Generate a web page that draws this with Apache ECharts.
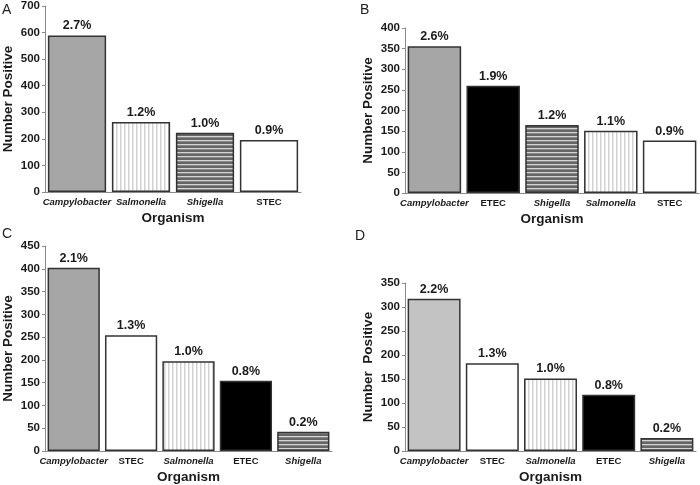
<!DOCTYPE html>
<html><head><meta charset="utf-8">
<script src="https://cdn.jsdelivr.net/npm/echarts@6/dist/echarts.min.js"></script>
<style>html,body{margin:0;padding:0;background:#fff}#c{width:700px;height:485px}</style>
</head><body><div id="c"></div>
<script>
// ---- data ----
const catsA = ['Campylobacter', 'Salmonella', 'Shigella', 'STEC'];
const valsA = [589, 263, 223, 196];
const pctA = ['2.7%', '1.2%', '1.0%', '0.9%'];

const catsB = ['Campylobacter', 'ETEC', 'Shigella', 'Salmonella', 'STEC'];
const valsB = [356, 260, 165, 151, 127];
const pctB = ['2.6%', '1.9%', '1.2%', '1.1%', '0.9%'];

const catsC = ['Campylobacter', 'STEC', 'Salmonella', 'ETEC', 'Shigella'];
const valsC = [402, 254, 197, 154, 42];
const pctC = ['2.1%', '1.3%', '1.0%', '0.8%', '0.2%'];

const catsD = ['Campylobacter', 'STEC', 'Salmonella', 'ETEC', 'Shigella'];
const valsD = [317, 183, 151, 117, 27];
const pctD = ['2.2%', '1.3%', '1.0%', '0.8%', '0.2%'];

const italicNames = ['Campylobacter', 'Salmonella', 'Shigella'];

// ---- patterns ----
function vPattern() {
  const c = document.createElement('canvas'); c.width = 4; c.height = 4;
  const g = c.getContext('2d');
  g.fillStyle = '#ffffff'; g.fillRect(0, 0, 4, 4);
  g.fillStyle = '#d2d2d2'; g.fillRect(0, 0, 1.5, 4);
  return c;
}
function hPattern() {
  const c = document.createElement('canvas'); c.width = 4; c.height = 4;
  const g = c.getContext('2d');
  g.fillStyle = '#666666'; g.fillRect(0, 0, 4, 4);
  g.fillStyle = '#d4d4d4'; g.fillRect(0, 0, 4, 1.3);
  return c;
}
const vp = vPattern(), hp = hPattern();
function fillFor(name, campyColor) {
  if (name === 'Campylobacter') return campyColor;
  if (name === 'Salmonella') return { image: vp, repeat: 'repeat' };
  if (name === 'Shigella') return { image: hp, repeat: 'repeat' };
  if (name === 'ETEC') return '#000000';
  return '#ffffff';
}

const FONT = '"Liberation Sans", Arial, sans-serif';
const panels = [
  { cats: catsA, vals: valsA, pct: pctA, max: 700, interval: 100, grid: { left: 44, top: 5, width: 257, height: 187 }, campy: '#a6a6a6', yname: 'Number Positive' },
  { cats: catsB, vals: valsB, pct: pctB, max: 400, interval: 50, grid: { left: 405, top: 28, width: 294, height: 165 }, campy: '#a6a6a6', yname: 'Number Positive' },
  { cats: catsC, vals: valsC, pct: pctC, max: 450, interval: 50, grid: { left: 44, top: 246, width: 288, height: 205 }, campy: '#a6a6a6', yname: 'Number Positive' },
  { cats: catsD, vals: valsD, pct: pctD, max: 350, interval: 50, grid: { left: 405, top: 283, width: 291, height: 168 }, campy: '#c3c3c3', yname: 'Number  Positive' }
];

const grid = [], xAxis = [], yAxis = [], series = [];
panels.forEach((p, i) => {
  grid.push(Object.assign({ containLabel: false }, p.grid));
  xAxis.push({
    type: 'category', gridIndex: i, data: p.cats,
    name: 'Organism', nameLocation: 'middle', nameGap: 19,
    nameTextStyle: { fontFamily: FONT, fontWeight: 'bold', fontSize: 13.5, color: '#1a1a1a' },
    axisLine: { lineStyle: { color: '#8a8a8a', width: 1 } },
    axisTick: { show: false },
    axisLabel: {
      interval: 0, margin: 5,
      formatter: v => (italicNames.includes(v) ? '{i|' + v + '}' : '{n|' + v + '}'),
      rich: {
        i: { fontFamily: FONT, fontWeight: 'bold', fontStyle: 'italic', fontSize: 9.5, color: '#1a1a1a' },
        n: { fontFamily: FONT, fontWeight: 'bold', fontSize: 9.5, color: '#1a1a1a' }
      }
    }
  });
  yAxis.push({
    type: 'value', gridIndex: i, min: 0, max: p.max, interval: p.interval,
    name: p.yname, nameLocation: 'middle', nameGap: 30,
    nameTextStyle: { fontFamily: FONT, fontWeight: 'bold', fontSize: 13.5, color: '#1a1a1a' },
    axisLine: { show: true, lineStyle: { color: '#8a8a8a', width: 1 } },
    axisTick: { show: true, length: 3, lineStyle: { color: '#8a8a8a' } },
    splitLine: { show: false },
    axisLabel: { fontFamily: FONT, fontWeight: 'bold', fontSize: 11.5, color: '#1a1a1a', margin: 5 }
  });
  series.push({
    type: 'bar', xAxisIndex: i, yAxisIndex: i, barCategoryGap: '9%',
    data: p.vals.map((v, k) => ({
      value: v,
      itemStyle: { color: fillFor(p.cats[k], p.campy), borderColor: '#333333', borderWidth: 1.5 }
    })),
    label: {
      show: true, position: 'top', distance: 3,
      formatter: prm => p.pct[prm.dataIndex],
      fontFamily: FONT, fontWeight: 'bold', fontSize: 12.5, color: '#1a1a1a'
    },
    animation: false
  });
});

const letterStyle = { fontFamily: FONT, fontSize: 14, fill: '#222' };
const graphic = [
  { type: 'text', left: 2, top: 3, style: Object.assign({ text: 'A' }, letterStyle) },
  { type: 'text', left: 360, top: 3, style: Object.assign({ text: 'B' }, letterStyle) },
  { type: 'text', left: 2, top: 227, style: Object.assign({ text: 'C' }, letterStyle) },
  { type: 'text', left: 355, top: 229, style: Object.assign({ text: 'D' }, letterStyle) }
];

const chart = echarts.init(document.getElementById('c'), null, { renderer: 'canvas' });
chart.setOption({ animation: false, backgroundColor: '#ffffff', grid, xAxis, yAxis, series, graphic });
</script></body></html>
